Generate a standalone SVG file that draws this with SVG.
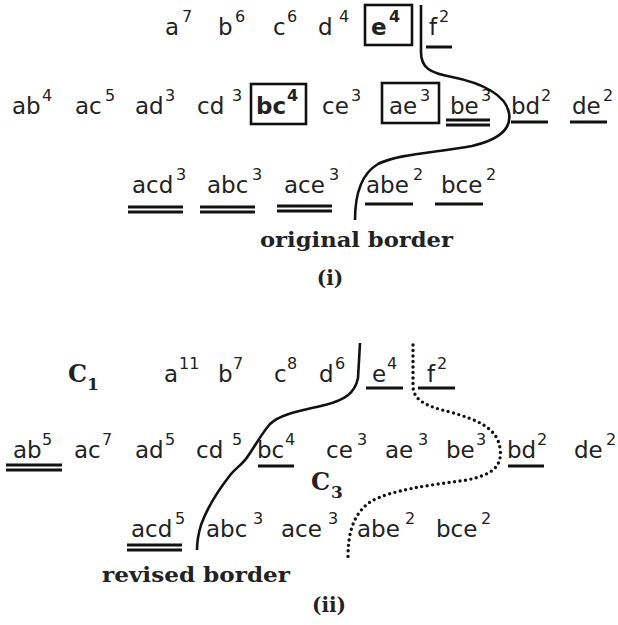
<svg xmlns="http://www.w3.org/2000/svg" width="618" height="625" viewBox="0 0 618 625">
<style>
.t{font-family:"DejaVu Sans",sans-serif;font-size:23px;fill:#222}
.b{font-weight:bold}
.s{font-size:16px}
.cap{font-family:"DejaVu Serif",serif;font-weight:bold;fill:#222}
.ul{stroke:#111;stroke-width:3;fill:none}
.box{stroke:#111;stroke-width:2.6;fill:none}
.border{stroke:#111;stroke-width:2.6;fill:none}
.dot{stroke:#111;stroke-width:3.4;fill:none;stroke-dasharray:0 5.5;stroke-linecap:round}
</style>
<rect width="618" height="625" fill="#fff"/>
<g id="panel-i">
<g id="i-a"><text class="t" x="165" y="35">a<tspan class="s" x="182" y="22">7</tspan></text></g>
<g id="i-b"><text class="t" x="218" y="35">b<tspan class="s" x="235" y="22">6</tspan></text></g>
<g id="i-c"><text class="t" x="273" y="35">c<tspan class="s" x="287" y="22">6</tspan></text></g>
<g id="i-d"><text class="t" x="318" y="35">d<tspan class="s" x="339" y="22">4</tspan></text></g>
<g id="i-e"><rect class="box" x="365" y="5" width="47" height="40"/><text class="t b" x="371" y="35">e<tspan class="s" x="389" y="22">4</tspan></text></g>
<g id="i-f"><text class="t" x="429" y="35">f<tspan class="s" x="439" y="22">2</tspan></text><line class="ul" x1="426" y1="47" x2="452" y2="47"/></g>

<g id="i-ab"><text class="t" x="12" y="114">ab<tspan class="s" x="42" y="101">4</tspan></text></g>
<g id="i-ac"><text class="t" x="75" y="114">ac<tspan class="s" x="105" y="101">5</tspan></text></g>
<g id="i-ad"><text class="t" x="135" y="114">ad<tspan class="s" x="165" y="101">3</tspan></text></g>
<g id="i-cd"><text class="t" x="197" y="114">cd<tspan class="s" x="232" y="101">3</tspan></text></g>
<g id="i-bc"><rect class="box" x="251" y="84" width="55" height="40"/><text class="t b" x="256" y="114">bc<tspan class="s" x="287" y="101">4</tspan></text></g>
<g id="i-ce"><text class="t" x="322" y="114">ce<tspan class="s" x="351" y="101">3</tspan></text></g>
<g id="i-ae"><rect class="box" x="382" y="83" width="57" height="40"/><text class="t" x="389" y="114">ae<tspan class="s" x="420" y="101">3</tspan></text></g>
<g id="i-be"><text class="t" x="450" y="114">be<tspan class="s" x="481" y="101">3</tspan></text><line class="ul" x1="446" y1="120" x2="490" y2="120" stroke-width="2.4"/><line class="ul" x1="446" y1="125" x2="490" y2="125" stroke-width="2.4"/></g>
<g id="i-bd"><text class="t" x="511" y="114">bd<tspan class="s" x="541" y="101">2</tspan></text><line class="ul" x1="511" y1="122" x2="548" y2="122"/></g>
<g id="i-de"><text class="t" x="572" y="114">de<tspan class="s" x="603" y="101">2</tspan></text><line class="ul" x1="570" y1="122" x2="607" y2="122"/></g>

<g id="i-acd"><text class="t" x="132" y="193">acd<tspan class="s" x="176" y="180">3</tspan></text><line class="ul" x1="128" y1="207" x2="183" y2="207" stroke-width="2.4"/><line class="ul" x1="128" y1="212" x2="183" y2="212" stroke-width="2.4"/></g>
<g id="i-abc"><text class="t" x="207" y="193">abc<tspan class="s" x="252" y="180">3</tspan></text><line class="ul" x1="200" y1="207" x2="255" y2="207" stroke-width="2.4"/><line class="ul" x1="200" y1="212" x2="255" y2="212" stroke-width="2.4"/></g>
<g id="i-ace"><text class="t" x="284" y="193">ace<tspan class="s" x="329" y="180">3</tspan></text><line class="ul" x1="277" y1="206" x2="332" y2="206" stroke-width="2.4"/><line class="ul" x1="277" y1="211" x2="332" y2="211" stroke-width="2.4"/></g>
<g id="i-abe"><text class="t" x="366" y="193">abe<tspan class="s" x="413" y="180">2</tspan></text><line class="ul" x1="365" y1="204" x2="413" y2="204"/></g>
<g id="i-bce"><text class="t" x="441" y="193">bce<tspan class="s" x="486" y="180">2</tspan></text><line class="ul" x1="435" y1="204" x2="483" y2="204"/></g>

<g id="i-label"><text class="cap" x="260" y="247" font-size="21" textLength="193" lengthAdjust="spacingAndGlyphs">original border</text></g>
<g id="i-caption"><text class="cap" x="330" y="285" font-size="20" text-anchor="middle">(i)</text></g>
</g>

<g id="panel-ii">
<g id="ii-C1"><text class="cap" x="68" y="382" font-size="24">C<tspan font-size="17" x="87" y="390">1</tspan></text></g>
<g id="ii-a"><text class="t" x="164" y="382">a<tspan class="s" x="179" y="369">11</tspan></text></g>
<g id="ii-b"><text class="t" x="218" y="382">b<tspan class="s" x="233" y="369">7</tspan></text></g>
<g id="ii-c"><text class="t" x="274" y="382">c<tspan class="s" x="287" y="369">8</tspan></text></g>
<g id="ii-d"><text class="t" x="319" y="382">d<tspan class="s" x="335" y="369">6</tspan></text></g>
<g id="ii-e"><text class="t" x="372" y="382">e<tspan class="s" x="387" y="369">4</tspan></text><line class="ul" x1="366" y1="388" x2="403" y2="388"/></g>
<g id="ii-f"><text class="t" x="427" y="382">f<tspan class="s" x="437" y="369">2</tspan></text><line class="ul" x1="418" y1="388" x2="455" y2="388"/></g>

<g id="ii-ab"><text class="t" x="13" y="458">ab<tspan class="s" x="42" y="445">5</tspan></text><line class="ul" x1="6" y1="465" x2="62" y2="465" stroke-width="2.4"/><line class="ul" x1="6" y1="470" x2="62" y2="470" stroke-width="2.4"/></g>
<g id="ii-ac"><text class="t" x="74" y="458">ac<tspan class="s" x="102" y="445">7</tspan></text></g>
<g id="ii-ad"><text class="t" x="135" y="458">ad<tspan class="s" x="165" y="445">5</tspan></text></g>
<g id="ii-cd"><text class="t" x="196" y="458">cd<tspan class="s" x="232" y="445">5</tspan></text></g>
<g id="ii-bc"><text class="t" x="257" y="458">bc<tspan class="s" x="285" y="445">4</tspan></text><line class="ul" x1="258" y1="466" x2="294" y2="466"/></g>
<g id="ii-ce"><text class="t" x="326" y="458">ce<tspan class="s" x="357" y="445">3</tspan></text></g>
<g id="ii-ae"><text class="t" x="385" y="458">ae<tspan class="s" x="418" y="445">3</tspan></text></g>
<g id="ii-be"><text class="t" x="446" y="458">be<tspan class="s" x="476" y="445">3</tspan></text></g>
<g id="ii-bd"><text class="t" x="507" y="458">bd<tspan class="s" x="537" y="445">2</tspan></text><line class="ul" x1="508" y1="466" x2="544" y2="466"/></g>
<g id="ii-de"><text class="t" x="574" y="458">de<tspan class="s" x="606" y="445">2</tspan></text></g>
<g id="ii-C3"><text class="cap" x="311" y="490" font-size="24">C<tspan font-size="17" x="331" y="498">3</tspan></text></g>

<g id="ii-acd"><text class="t" x="131" y="537">acd<tspan class="s" x="175" y="524">5</tspan></text><line class="ul" x1="127" y1="545" x2="182" y2="545" stroke-width="2.4"/><line class="ul" x1="127" y1="550" x2="182" y2="550" stroke-width="2.4"/></g>
<g id="ii-abc"><text class="t" x="206" y="537">abc<tspan class="s" x="253" y="524">3</tspan></text></g>
<g id="ii-ace"><text class="t" x="281" y="537">ace<tspan class="s" x="328" y="524">3</tspan></text></g>
<g id="ii-abe"><text class="t" x="357" y="537">abe<tspan class="s" x="405" y="524">2</tspan></text></g>
<g id="ii-bce"><text class="t" x="436" y="537">bce<tspan class="s" x="481" y="524">2</tspan></text></g>

<g id="ii-label"><text class="cap" x="102" y="582" font-size="21" textLength="188" lengthAdjust="spacingAndGlyphs">revised border</text></g>
<g id="ii-caption"><text class="cap" x="329" y="612" font-size="20" text-anchor="middle">(ii)</text></g>
</g>

<g id="connectors">
<path class="border" d="M421,5 L421,52 C421,68 430,73 452,77 C482,83 506,95 509,113 C512,130 498,140 472,146 C432,153 398,154 378,164 C361,174 355,195 355,220"/>
<path class="border" d="M360,343 L358,378 C355,393 345,400 325,405 C300,411 280,414 270,424 C262,433 255,446 248,456 C243,464 237,467 231,474 C220,488 207,508 201,525 C198,535 197,545 197,550"/>
<path class="dot" d="M413,345 L413,387 C414,400 425,406 450,412 C478,420 497,428 500,448 C503,468 490,475 467,480 C430,485 390,490 370,502 C352,515 348,535 348,558"/>
</g>
</svg>
